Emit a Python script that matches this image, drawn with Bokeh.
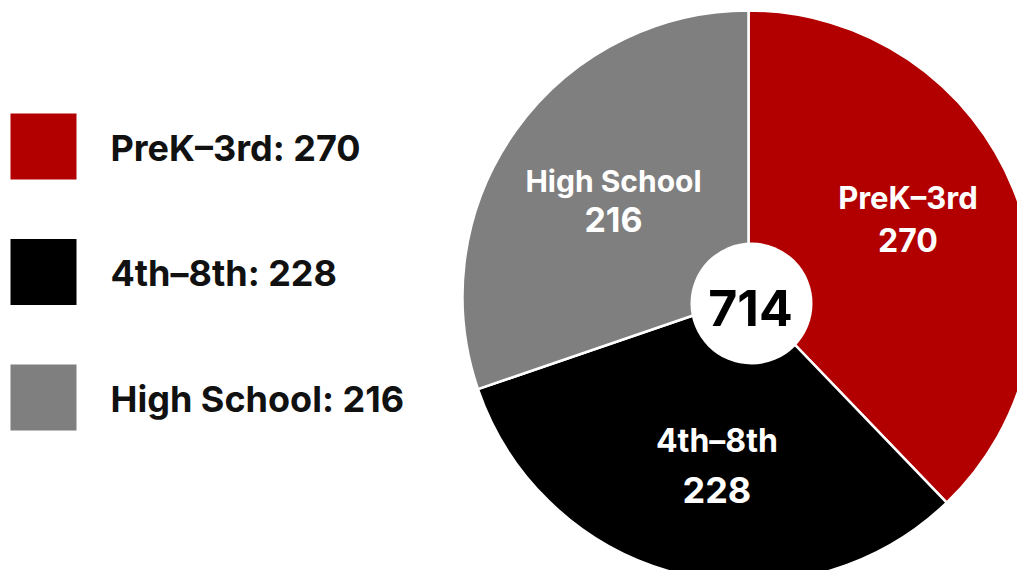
import math
from bokeh.plotting import figure
from bokeh.models import Range1d, ColumnDataSource
from bokeh.core.properties import value
from bokeh.embed import file_html
from bokeh.resources import INLINE

# ---- data ----
categories = ["PreK\u20133rd", "4th\u20138th", "High School"]
counts = [270, 228, 216]
colors = ["#B20000", "#000000", "#7F7F7F"]
total = sum(counts)

FONT = "Inter"

# figure geometry (picture px -> data: x = px, y = H - py)
W, H = 1017, 570
p = figure(width=W, height=H, output_backend="svg", toolbar_location=None,
           x_range=Range1d(0, W), y_range=Range1d(0, H),
           x_axis_location=None, y_axis_location=None, min_border=0,
           background_fill_color="white", border_fill_color="white")
p.grid.visible = False
p.outline_line_color = None

def Y(py):
    return H - py

cx, cy, R = 748, Y(296), 286

# wedges, clockwise from 12 o'clock
starts, ends, mids = [], [], []
acc = 0.0
for c in counts:
    a0 = math.pi / 2 - 2 * math.pi * acc / total
    acc += c
    a1 = math.pi / 2 - 2 * math.pi * acc / total
    starts.append(a0)
    ends.append(a1)
    mids.append((a0 + a1) / 2)

src = ColumnDataSource(dict(start=starts, end=ends, color=colors))
p.wedge(x=cx, y=cy, radius=R, start_angle="start", end_angle="end",
        direction="clock", fill_color="color", line_color="white",
        line_width=2.5, source=src)

# centre hole with total
p.circle(x=751, y=Y(303), radius=61, fill_color="white", line_color=None)
p.text(x=[750], y=[Y(307)], text=[str(total)], text_font=value(FONT),
       text_font_style="bold", text_font_size="50px", text_color="black",
       text_align="center", text_baseline="middle")

# slice labels
name_sizes = ["31px", "32px", "30px"]
num_sizes = ["32px", "36px", "34px"]
lab_r = [0.62 * R, 0.6 * R, 0.58 * R]
nudge = [math.radians(4), math.radians(3), 0.0]
gaps = [42, 50, 38]
for i, (cat, cnt) in enumerate(zip(categories, counts)):
    a = mids[i] + nudge[i]
    lx = cx + lab_r[i] * math.cos(a)
    ly = cy + lab_r[i] * math.sin(a)
    gap = gaps[i]
    p.text(x=[lx], y=[ly + gap / 2], text=[cat], text_font=value(FONT),
           text_font_style="bold", text_font_size=name_sizes[i],
           text_color="white", text_align="center", text_baseline="middle")
    p.text(x=[lx], y=[ly - gap / 2], text=[str(cnt)], text_font=value(FONT),
           text_font_style="bold", text_font_size=num_sizes[i],
           text_color="white", text_align="center", text_baseline="middle")

# legend
leg_y = [Y(146 + 125.5 * i) for i in range(len(categories))]
p.rect(x=[43] * 3, y=leg_y, width=66, height=66, fill_color=colors,
       line_color=None)
p.text(x=[110] * 3, y=[v - 1 for v in leg_y],
       text=[f"{c}: {n}" for c, n in zip(categories, counts)],
       text_font=value(FONT), text_font_style="bold", text_font_size="36px",
       text_color="#111111", text_align="left", text_baseline="middle")

open("out.html", "w").write(file_html(p, INLINE))
